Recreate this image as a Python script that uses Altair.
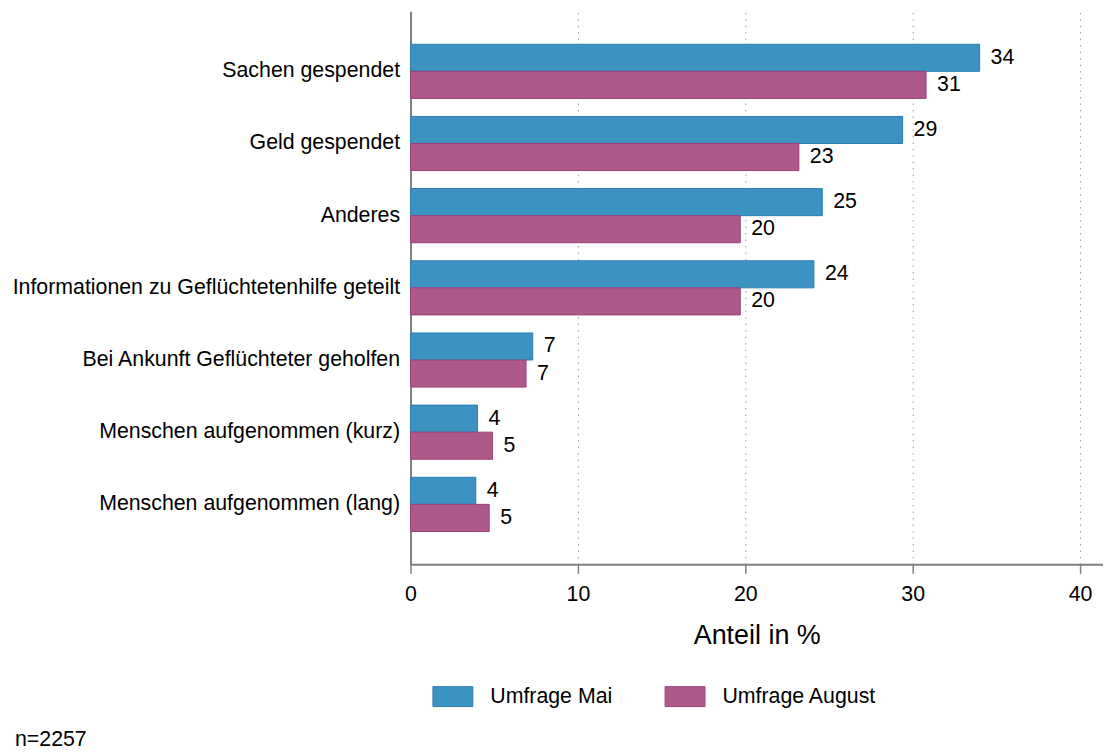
import altair as alt
import pandas as pd

categories = [
    "Sachen gespendet",
    "Geld gespendet",
    "Anderes",
    "Informationen zu Geflüchtetenhilfe geteilt",
    "Bei Ankunft Geflüchteter geholfen",
    "Menschen aufgenommen (kurz)",
    "Menschen aufgenommen (lang)",
]
series = ["Umfrage Mai", "Umfrage August"]
mai = [34.0, 29.4, 24.6, 24.1, 7.3, 4.0, 3.9]
august = [30.8, 23.2, 19.7, 19.7, 6.9, 4.9, 4.7]
mai_labels = ["34", "29", "25", "24", "7", "4", "4"]
august_labels = ["31", "23", "20", "20", "7", "5", "5"]
x_ticks = [0, 10, 20, 30, 40]
note = "n=2257"

fill_colors = ["#3C93C2", "#AD5A8B"]
stroke_colors = ["#2A7DB2", "#9B3F78"]

rows = []
for i, c in enumerate(categories):
    rows.append({"cat": c, "survey": series[0], "value": mai[i], "label": mai_labels[i]})
    rows.append({"cat": c, "survey": series[1], "value": august[i], "label": august_labels[i]})
df = pd.DataFrame(rows)

FONT = "Liberation Sans"
FS = 21.4

y_enc = alt.Y(
    "cat:N",
    sort=categories,
    scale=alt.Scale(paddingInner=0.25, paddingOuter=0.456),
    axis=alt.Axis(
        title=None,
        ticks=False,
        labelFontSize=FS,
        labelFont=FONT,
        labelColor="#000000",
        labelPadding=11,
        labelLimit=500,
        domainColor="#808080",
        domainWidth=2,
        grid=False,
    ),
)
yoff = alt.YOffset("survey:N", sort=series, scale=alt.Scale(paddingInner=0, paddingOuter=0))
x_enc = alt.X(
    "value:Q",
    scale=alt.Scale(domain=[0, 41.37], nice=False, zero=True),
    axis=alt.Axis(
        values=x_ticks,
        title="Anteil in %",
        titleFontSize=27,
        titleFont=FONT,
        titleFontWeight="normal",
        titleColor="#000000",
        titlePadding=18,
        labelFontSize=FS,
        labelFont=FONT,
        labelColor="#000000",
        labelPadding=10,
        tickSize=9,
        tickColor="#808080",
        tickWidth=1.5,
        domainColor="#808080",
        domainWidth=2,
        grid=True,
        gridColor="#9a9a9a",
        gridDash=[1.5, 5],
        gridWidth=1,
        labelFlush=False,
    ),
)

legend_props = dict(
    title=None,
    orient="none",
    legendX=22,
    legendY=667,
    direction="horizontal",
    symbolType="M-1,-0.5H1V0.5H-1Z",
    symbolSize=1600,
    symbolStrokeWidth=1,
    labelFontSize=FS,
    labelFont=FONT,
    labelColor="#000000",
    labelOffset=17,
    columnPadding=50,
    padding=0,
    symbolOpacity=1,
)

bars = alt.Chart(df).mark_bar(strokeWidth=1).encode(
    y=y_enc,
    yOffset=yoff,
    x=x_enc,
    fill=alt.Fill(
        "survey:N",
        sort=series,
        scale=alt.Scale(domain=series, range=fill_colors),
        legend=alt.Legend(**legend_props),
    ),
    stroke=alt.Stroke(
        "survey:N",
        sort=series,
        scale=alt.Scale(domain=series, range=stroke_colors),
        legend=alt.Legend(**legend_props),
    ),
)

labels = alt.Chart(df).mark_text(
    align="left", baseline="middle", dx=11, fontSize=FS, font=FONT, color="#000000"
).encode(
    y=alt.Y("cat:N", sort=categories),
    yOffset=alt.YOffset("survey:N", sort=series),
    x=alt.X("value:Q"),
    text="label:N",
)

note_layer = alt.Chart(pd.DataFrame({"t": [note]})).mark_text(
    align="left", baseline="middle", fontSize=FS, font=FONT, color="#000000"
).encode(
    x=alt.value(-397),
    y=alt.value(731),
    text="t:N",
)

chart = (
    alt.layer(bars, labels, note_layer)
    .properties(
        width=695,
        height=555,
        autosize=alt.AutoSizeParams(type="none"),
        padding={"left": 404, "top": 2, "right": 0, "bottom": 185},
        background="#ffffff",
    )
    .configure_view(stroke=None)
)

chart.save("out.html", embed_options={"renderer": "svg", "actions": False})
